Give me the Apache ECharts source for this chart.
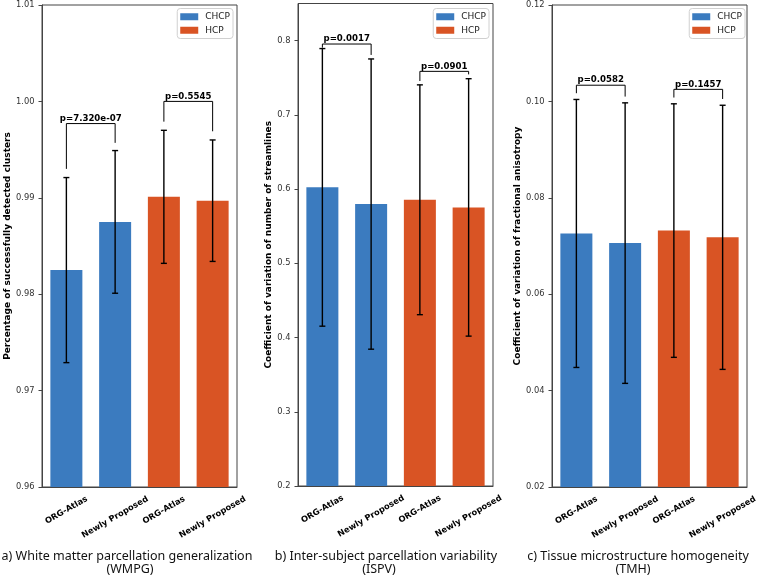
<!DOCTYPE html>
<html>
<head>
<meta charset="utf-8">
<script src="https://cdn.jsdelivr.net/npm/echarts@6/dist/echarts.min.js"></script>
<style>
  html, body { margin: 0; padding: 0; background: #fff; }
  #chart { width: 760px; height: 580px; }
</style>
</head>
<body>
<div id="chart"></div>
<script>
// categories and groups
var categories = ['ORG-Atlas', 'Newly Proposed', 'ORG-Atlas', 'Newly Proposed'];
var groups = ['CHCP', 'HCP'];

// a) WMPG
var wmpgMean = [0.9825, 0.9875, 0.9901, 0.9897];
var wmpgErr = [0.0096, 0.0074, 0.0069, 0.0063];
var wmpgTicks = [0.96, 0.97, 0.98, 0.99, 1.00, 1.01];
// brackets: [left index, right index, left leg bottom, right leg bottom, top]
var wmpgBrackets = [[0, 1, 0.9930, 0.9957, 0.9977], [2, 3, 0.9979, 0.9969, 1.0000]];
var wmpgP = ['p=7.320e-07', 'p=0.5545'];

// b) ISPV
var ispvMean = [0.6023, 0.5798, 0.5856, 0.5753];
var ispvErr = [0.1870, 0.1955, 0.1548, 0.1734];
var ispvTicks = [0.2, 0.3, 0.4, 0.5, 0.6, 0.7, 0.8];
var ispvBrackets = [[0, 1, 0.7905, 0.7807, 0.7954], [2, 3, 0.7456, 0.7545, 0.7586]];
var ispvP = ['p=0.0017', 'p=0.0901'];

// c) TMH
var tmhMean = [0.0726, 0.0706, 0.0732, 0.0718];
var tmhErr = [0.0278, 0.0291, 0.0263, 0.0274];
var tmhTicks = [0.02, 0.04, 0.06, 0.08, 0.10, 0.12];
var tmhBrackets = [[0, 1, 0.1017, 0.1010, 0.10336], [2, 3, 0.1008, 0.1005, 0.1025]];
var tmhP = ['p=0.0582', 'p=0.1457'];

var BLUE = '#3b7bbf';
var RED = '#d95424';
var AXIS = '#444';
var LABEL_FONT = 'bold 8.3px "DejaVu Sans"';
var P_FONT = 'bold 8.6px "DejaVu Sans"';

var ctx = document.createElement('canvas').getContext('2d');
function textWidth(t, font) { ctx.font = font; return ctx.measureText(t).width; }

var panels = [
  { mean: wmpgMean, err: wmpgErr, ticks: wmpgTicks, min: 0.96, max: 1.01, dec: 2,
    brackets: wmpgBrackets, p: wmpgP, name: 'Percentage of successfully detected clusters',
    grid: { left: 42, top: 5, width: 195, height: 482 }, nameGap: 28, legendRight: 527 },
  { mean: ispvMean, err: ispvErr, ticks: ispvTicks, min: 0.2, max: 0.85, dec: 1,
    brackets: ispvBrackets, p: ispvP, name: 'Coefficient of variation of number of streamlines',
    grid: { left: 298, top: 3.5, width: 195, height: 482.5 }, nameGap: 24, legendRight: 271 },
  { mean: tmhMean, err: tmhErr, ticks: tmhTicks, min: 0.02, max: 0.12, dec: 2,
    brackets: tmhBrackets, p: tmhP, name: 'Coefficient of variation of fractional anisotropy',
    grid: { left: 552, top: 5, width: 195, height: 482 }, nameGap: 28, legendRight: 15 }
];

function errRender(params, api) {
  var x = api.value(0), m = api.value(1), e = api.value(2);
  var hi = api.coord([x, m + e]), lo = api.coord([x, m - e]);
  var st = { stroke: '#000', lineWidth: 1.4 };
  return { type: 'group', children: [
    { type: 'line', shape: { x1: hi[0], y1: hi[1], x2: lo[0], y2: lo[1] }, style: st },
    { type: 'line', shape: { x1: hi[0] - 3, y1: hi[1], x2: hi[0] + 3, y2: hi[1] }, style: st },
    { type: 'line', shape: { x1: lo[0] - 3, y1: lo[1], x2: lo[0] + 3, y2: lo[1] }, style: st }
  ]};
}

function bracketRender(labels) {
  return function (params, api) {
    var i1 = api.value(0), i2 = api.value(1);
    var a = api.coord([i1, api.value(2)]), b = api.coord([i1, api.value(4)]);
    var c = api.coord([i2, api.value(4)]), d = api.coord([i2, api.value(3)]);
    return { type: 'group', children: [
      { type: 'polyline', shape: { points: [a, b, c, d] }, style: { stroke: '#000', lineWidth: 1, fill: null } },
      { type: 'text', x: (b[0] + c[0]) / 2, y: b[1] - 0.5,
        style: { text: labels[params.dataIndex], font: P_FONT, fill: '#000',
                 align: 'center', verticalAlign: 'bottom', textAlign: 'center', textVerticalAlign: 'bottom' } }
    ]};
  };
}

function xLabelRender(ymin) {
  return function (params, api) {
    var i = api.value(0);
    var pt = api.coord([i, ymin]);
    var t = categories[i];
    var w = textWidth(t, LABEL_FONT);
    var h = 9.6;
    var bh = w * 0.5 + h * 0.866;
    return { type: 'text', x: pt[0], y: pt[1] + 7.2 + bh / 2, rotation: Math.PI / 6,
      style: { text: t, font: LABEL_FONT, fill: '#000', align: 'center', verticalAlign: 'middle',
               textAlign: 'center', textVerticalAlign: 'middle' } };
  };
}

var grids = [], xAxes = [], yAxes = [], series = [], legends = [];
panels.forEach(function (p, k) {
  grids.push(Object.assign({ show: true, borderColor: AXIS, borderWidth: 1, backgroundColor: 'transparent' }, p.grid));
  xAxes.push({ type: 'category', gridIndex: k, data: categories,
    axisLine: { lineStyle: { color: AXIS, width: 1 } },
    axisTick: { alignWithLabel: true, length: 3.5, lineStyle: { color: AXIS } },
    axisLabel: { show: false }, splitLine: { show: false } });
  yAxes.push({ type: 'value', gridIndex: k, min: p.min, max: p.max,
    name: p.name, nameLocation: 'middle', nameGap: p.nameGap,
    nameTextStyle: { fontFamily: 'DejaVu Sans', fontWeight: 'bold', fontSize: 9, color: '#000' },
    axisLine: { show: true, lineStyle: { color: AXIS, width: 1 } },
    axisTick: { show: true, length: 3.5, customValues: p.ticks, lineStyle: { color: AXIS } },
    axisLabel: { customValues: p.ticks, margin: 7.5, fontFamily: 'DejaVu Sans', fontSize: 8.3, color: '#333',
      formatter: function (v) { return v.toFixed(p.dec); } },
    splitLine: { show: false } });
  series.push({ name: groups[0], type: 'bar', xAxisIndex: k, yAxisIndex: k, barWidth: 32, barGap: '-100%',
    itemStyle: { color: BLUE }, data: [p.mean[0], p.mean[1], '-', '-'] });
  series.push({ name: groups[1], type: 'bar', xAxisIndex: k, yAxisIndex: k, barWidth: 32, barGap: '-100%',
    itemStyle: { color: RED }, data: ['-', '-', p.mean[2], p.mean[3]] });
  series.push({ type: 'custom', xAxisIndex: k, yAxisIndex: k, renderItem: errRender, z: 5,
    data: p.mean.map(function (m, i) { return [i, m, p.err[i]]; }) });
  series.push({ type: 'custom', xAxisIndex: k, yAxisIndex: k, renderItem: bracketRender(p.p), z: 5, clip: false,
    data: p.brackets });
  series.push({ type: 'custom', xAxisIndex: k, yAxisIndex: k, renderItem: xLabelRender(p.min), z: 5, clip: false,
    data: categories.map(function (c, i) { return [i, p.min]; }) });
  legends.push({ data: groups, orient: 'vertical', right: p.legendRight, top: 8.5,
    itemWidth: 18, itemHeight: 7, itemGap: 3, icon: 'rect', padding: [3, 3, 3, 3],
    borderColor: '#d0d0d0', borderWidth: 1, borderRadius: 3, backgroundColor: '#fff',
    selectedMode: false,
    textStyle: { fontFamily: 'DejaVu Sans', fontSize: 9, color: '#222', lineHeight: 10.5, padding: [0, 0, 0, 2] } });
});

var captionFont = '12.5px "Noto Sans"';
function cap(text, x, y) {
  return { type: 'text', x: x, y: y, style: { text: text, font: captionFont, fill: '#111',
    align: 'center', verticalAlign: 'middle', textAlign: 'center', textVerticalAlign: 'middle' } };
}

var chart = echarts.init(document.getElementById('chart'));
chart.setOption({
  animation: false,
  grid: grids, xAxis: xAxes, yAxis: yAxes, series: series, legend: legends,
  graphic: [
    cap('a) White matter parcellation generalization', 127, 556), cap('(WMPG)', 130, 569),
    cap('b) Inter-subject parcellation variability', 386, 556), cap('(ISPV)', 379, 569),
    cap('c) Tissue microstructure homogeneity', 638, 556), cap('(TMH)', 633, 569)
  ]
});
</script>
</body>
</html>
